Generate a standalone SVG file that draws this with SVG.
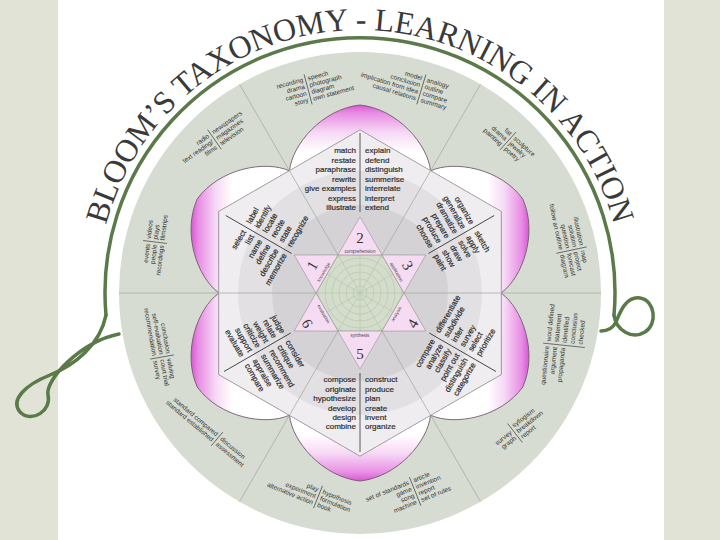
<svg xmlns="http://www.w3.org/2000/svg" width="720" height="540" viewBox="0 0 720 540">
<defs>
<style>
.kt{font-family:"Liberation Sans",Arial,sans-serif;font-size:8px;fill:#2f2f2f;stroke:#2f2f2f;stroke-width:0.2}
.ot{font-family:"Liberation Sans",Arial,sans-serif;font-size:6.5px;fill:#333}
.e{text-anchor:end}
.dv{stroke:#333;stroke-width:0.8}
.odv{stroke:#444;stroke-width:0.7}
.sec{stroke:#a6ada2;stroke-width:0.8;fill:none}
.num{font-family:"Liberation Serif",serif;font-size:15px;fill:#333;text-anchor:middle}
.lab{font-family:"Liberation Sans",sans-serif;font-size:4.5px;fill:#444;text-anchor:middle}
.petal{stroke:#6e5b6d;stroke-width:0.9}
.tri{fill:#f6dcf3;stroke:#8a8a8a;stroke-width:0.5}
.web{fill:none;stroke:#b3c2a9;stroke-width:0.6}
.green{fill:none;stroke:#5b7a4a;stroke-width:3.5;stroke-linecap:round}
</style>
<linearGradient id="gT" gradientUnits="userSpaceOnUse" x1="0" y1="105" x2="0" y2="160">
<stop offset="0" stop-color="#d857d2"/><stop offset="0.15" stop-color="#e88de4"/><stop offset="0.5" stop-color="#f7d8f5"/><stop offset="0.85" stop-color="#ffffff"/>
</linearGradient>
<linearGradient id="gB" gradientUnits="userSpaceOnUse" x1="0" y1="481" x2="0" y2="426">
<stop offset="0" stop-color="#d857d2"/><stop offset="0.15" stop-color="#e88de4"/><stop offset="0.5" stop-color="#f7d8f5"/><stop offset="0.85" stop-color="#ffffff"/>
</linearGradient>
<linearGradient id="gL" gradientUnits="userSpaceOnUse" x1="191" y1="0" x2="240" y2="0">
<stop offset="0" stop-color="#d857d2"/><stop offset="0.15" stop-color="#e88de4"/><stop offset="0.5" stop-color="#f7d8f5"/><stop offset="0.85" stop-color="#ffffff"/>
</linearGradient>
<linearGradient id="gR" gradientUnits="userSpaceOnUse" x1="529" y1="0" x2="480" y2="0">
<stop offset="0" stop-color="#d857d2"/><stop offset="0.15" stop-color="#e88de4"/><stop offset="0.5" stop-color="#f7d8f5"/><stop offset="0.85" stop-color="#ffffff"/>
</linearGradient>
<clipPath id="hexclip"><polygon points="404,293 382,254.9 338,254.9 316,293 338,331.1 382,331.1"/></clipPath>
<path id="titlePath" d="M106,224.9 A263,263 0 0 1 614,224.9"/>
</defs>

<rect x="0" y="0" width="720" height="540" fill="#ffffff"/>
<rect x="0" y="0" width="58" height="540" fill="#e1e3d7"/>
<rect x="664" y="0" width="56" height="540" fill="#e1e3d7"/>

<g id="disc">
<circle cx="360" cy="293" r="241" fill="#d6dcd1"/>
</g>

<g id="petals">
<path id="petal-2" class="petal" fill="url(#gT)" d="M289.5,170.75 C292,145 322,109 360,105 C398,109 428,145 430.5,170.75 L360,130 Z"/>
<path id="petal-3" class="petal" fill="url(#gR)" d="M430.6,170.8 C454.2,160.1 500.3,168.1 522.8,199 C538.3,233.9 522.2,277.9 501.1,292.9 L501.2,211.5 Z"/>
<path id="petal-4" class="petal" fill="url(#gR)" d="M501.1,293.1 C522.2,308.1 538.3,352.1 522.8,387 C500.3,417.9 454.2,425.9 430.6,415.2 L501.2,374.5 Z"/>
<path id="petal-5" class="petal" fill="url(#gB)" d="M430.5,415.25 C428,441 398,477 360,481 C322,477 292,441 289.5,415.25 L360,456 Z"/>
<path id="petal-6" class="petal" fill="url(#gL)" d="M218.9,293.1 C197.8,308.1 181.7,352.1 197.2,387 C219.7,417.9 265.8,425.9 289.4,415.2 L218.8,374.5 Z"/>
<path id="petal-1" class="petal" fill="url(#gL)" d="M218.9,292.9 C197.8,277.9 181.7,233.9 197.2,199 C219.7,168.1 265.8,160.1 289.4,170.8 L218.8,211.5 Z"/>
</g>

<g id="kites">
<polygon points="360,130 501.16,211.5 501.16,374.5 360,456 218.84,374.5 218.84,211.5" fill="#efedf0" stroke="#a8a8a8" stroke-width="0.6"/>
<circle cx="360" cy="293" r="122" fill="#000" fill-opacity="0.05"/>
<circle cx="360" cy="293" r="88" fill="#000" fill-opacity="0.06"/>
</g>

<g id="connectors">
<line class="sec" x1="119" y1="293" x2="601" y2="293"/>
<line class="sec" x1="480.5" y1="84.3" x2="239.5" y2="501.7"/>
<line class="sec" x1="239.5" y1="84.3" x2="480.5" y2="501.7"/>
</g>

<g id="kite-2">
<line class="dv" x1="360" y1="133" x2="360" y2="212"/>
<text class="kt e" x="356" y="153">match</text>
<text class="kt e" x="356" y="162.5">restate</text>
<text class="kt e" x="356" y="172">paraphrase</text>
<text class="kt e" x="356" y="181.5">rewrite</text>
<text class="kt e" x="356" y="191">give examples</text>
<text class="kt e" x="356" y="200.5">express</text>
<text class="kt e" x="356" y="210">illustrate</text>
<text class="kt" x="365" y="153">explain</text>
<text class="kt" x="365" y="162.5">defend</text>
<text class="kt" x="365" y="172">distinguish</text>
<text class="kt" x="365" y="181.5">summerise</text>
<text class="kt" x="365" y="191">interrelate</text>
<text class="kt" x="365" y="200.5">interpret</text>
<text class="kt" x="365" y="210">extend</text>
</g>

<g id="kite-1" transform="rotate(-60 360 293)">
<line class="dv" x1="360" y1="138" x2="360" y2="214"/>
<text class="kt e" x="356" y="164">select</text>
<text class="kt e" x="356" y="173.4">list</text>
<text class="kt e" x="356" y="182.8">name</text>
<text class="kt e" x="356" y="192.2">define</text>
<text class="kt e" x="356" y="201.6">describe</text>
<text class="kt e" x="356" y="211">memorize</text>
<text class="kt" x="365" y="164">label</text>
<text class="kt" x="365" y="173.4">identify</text>
<text class="kt" x="365" y="182.8">locate</text>
<text class="kt" x="365" y="192.2">recite</text>
<text class="kt" x="365" y="201.6">state</text>
<text class="kt" x="365" y="211">recognize</text>
</g>

<g id="kite-3" transform="rotate(60 360 293)">
<line class="dv" x1="360" y1="138" x2="360" y2="214"/>
<text class="kt e" x="356" y="164">organize</text>
<text class="kt e" x="356" y="173.4">generalize</text>
<text class="kt e" x="356" y="182.8">dramatize</text>
<text class="kt e" x="356" y="192.2">prepare</text>
<text class="kt e" x="356" y="201.6">produce</text>
<text class="kt e" x="356" y="211">choose</text>
<text class="kt" x="365" y="164">sketch</text>
<text class="kt" x="365" y="173.4">apply</text>
<text class="kt" x="365" y="182.8">solve</text>
<text class="kt" x="365" y="192.2">draw</text>
<text class="kt" x="365" y="201.6">show</text>
<text class="kt" x="365" y="211">paint</text>
</g>

<g id="kite-5">
<line class="dv" x1="360" y1="373" x2="360" y2="452"/>
<text class="kt e" x="356" y="382.3">compose</text>
<text class="kt e" x="356" y="391.7">originate</text>
<text class="kt e" x="356" y="401.1">hypothesize</text>
<text class="kt e" x="356" y="410.5">develop</text>
<text class="kt e" x="356" y="419.9">design</text>
<text class="kt e" x="356" y="429.3">combine</text>
<text class="kt" x="365" y="382.3">construct</text>
<text class="kt" x="365" y="391.7">produce</text>
<text class="kt" x="365" y="401.1">plan</text>
<text class="kt" x="365" y="410.5">create</text>
<text class="kt" x="365" y="419.9">invent</text>
<text class="kt" x="365" y="429.3">organize</text>
</g>

<g id="kite-4" transform="rotate(-60 360 293)">
<line class="dv" x1="360" y1="373" x2="360" y2="450"/>
<text class="kt e" x="356" y="382.3">compare</text>
<text class="kt e" x="356" y="391.7">analyze</text>
<text class="kt e" x="356" y="401.1">classify</text>
<text class="kt e" x="356" y="410.5">point out</text>
<text class="kt e" x="356" y="419.9">distinguish</text>
<text class="kt e" x="356" y="429.3">categorize</text>
<text class="kt" x="365" y="382.3">differentiate</text>
<text class="kt" x="365" y="391.7">subdivide</text>
<text class="kt" x="365" y="401.1">infer</text>
<text class="kt" x="365" y="410.5">survey</text>
<text class="kt" x="365" y="419.9">select</text>
<text class="kt" x="365" y="429.3">prioritize</text>
</g>

<g id="kite-6" transform="rotate(60 360 293)">
<line class="dv" x1="360" y1="373" x2="360" y2="450"/>
<text class="kt e" x="356" y="382.3">judge</text>
<text class="kt e" x="356" y="391.7">relate</text>
<text class="kt e" x="356" y="401.1">weight</text>
<text class="kt e" x="356" y="410.5">criticize</text>
<text class="kt e" x="356" y="419.9">support</text>
<text class="kt e" x="356" y="429.3">evaluate</text>
<text class="kt" x="365" y="382.3">consider</text>
<text class="kt" x="365" y="391.7">critique</text>
<text class="kt" x="365" y="401.1">recommend</text>
<text class="kt" x="365" y="410.5">summarize</text>
<text class="kt" x="365" y="419.9">appraise</text>
<text class="kt" x="365" y="429.3">compare</text>
</g>

<g id="centre">
<polygon points="404,293 382,254.9 338,254.9 316,293 338,331.1 382,331.1" fill="#d4ddcb" stroke="#8a8a8a" stroke-width="0.5"/>
<g clip-path="url(#hexclip)">
<circle class="web" cx="360" cy="293" r="7"/>
<circle class="web" cx="360" cy="293" r="14"/>
<circle class="web" cx="360" cy="293" r="21"/>
<circle class="web" cx="360" cy="293" r="28"/>
<circle class="web" cx="360" cy="293" r="35"/>
<circle class="web" cx="360" cy="293" r="42"/>
<path class="web" d="M316,293 L404,293 M338,254.9 L382,331.1 M382,254.9 L338,331.1 M360,249 L360,337 M322,271 L398,315 M398,271 L322,315"/>
</g>
</g>

<g id="star-2"><polygon class="tri" points="338,254.9 382,254.9 360,217"/><text class="num" x="360" y="243">2</text><text class="lab" x="360" y="252.5">comprehension</text></g>
<g id="star-1" transform="rotate(-60 360 293)"><polygon class="tri" points="338,254.9 382,254.9 360,217"/><text class="num" x="360" y="243">1</text><text class="lab" x="360" y="252.5">knowledge</text></g>
<g id="star-3" transform="rotate(60 360 293)"><polygon class="tri" points="338,254.9 382,254.9 360,217"/><text class="num" x="360" y="243">3</text><text class="lab" x="360" y="252.5">application</text></g>
<g id="star-5"><polygon class="tri" points="338,331.1 382,331.1 360,369"/><text class="num" x="360" y="359">5</text><text class="lab" x="360" y="336.5">synthesis</text></g>
<g id="star-4" transform="rotate(-60 360 293)"><polygon class="tri" points="338,331.1 382,331.1 360,369"/><text class="num" x="360" y="359">4</text><text class="lab" x="360" y="336.5">analysis</text></g>
<g id="star-6" transform="rotate(60 360 293)"><polygon class="tri" points="338,331.1 382,331.1 360,369"/><text class="num" x="360" y="359">6</text><text class="lab" x="360" y="336.5">evaluation</text></g>

<g id="products-1" transform="translate(308 89) rotate(-15)">
<line class="odv" x1="0" y1="-15" x2="0" y2="16"/>
<text class="ot e" x="-2.5" y="-8.2">recording</text><text class="ot e" x="-2.5" y="-1.2">drama</text><text class="ot e" x="-2.5" y="5.8">cartoon</text><text class="ot e" x="-2.5" y="12.8">story</text>
<text class="ot" x="2.5" y="-8.2">speech</text><text class="ot" x="2.5" y="-1.2">photograph</text><text class="ot" x="2.5" y="5.8">diagram</text><text class="ot" x="2.5" y="12.8">own statement</text>
</g>
<g id="products-2" transform="translate(421.5 89) rotate(17)">
<line class="odv" x1="0" y1="-15" x2="0" y2="16"/>
<text class="ot e" x="-2.5" y="-8.2">model</text><text class="ot e" x="-2.5" y="-1.2">conclusion</text><text class="ot e" x="-2.5" y="5.8">implication from idea</text><text class="ot e" x="-2.5" y="12.8">causal relations</text>
<text class="ot" x="2.5" y="-8.2">analogy</text><text class="ot" x="2.5" y="-1.2">outline</text><text class="ot" x="2.5" y="5.8">compare</text><text class="ot" x="2.5" y="12.8">summary</text>
</g>
<g id="products-3" transform="translate(508 141) rotate(42)">
<line class="odv" x1="0" y1="-12" x2="0" y2="12"/>
<text class="ot e" x="-2.5" y="-4.7">fat</text><text class="ot e" x="-2.5" y="2.3">drama</text><text class="ot e" x="-2.5" y="9.3">painting</text>
<text class="ot" x="2.5" y="-4.7">sculpture</text><text class="ot" x="2.5" y="2.3">jewelry</text><text class="ot" x="2.5" y="9.3">poetry</text>
</g>
<g id="products-4" transform="translate(572 250) rotate(78)">
<line class="odv" x1="0" y1="-15" x2="0" y2="16"/>
<text class="ot e" x="-2.5" y="-8.2">illustration</text><text class="ot e" x="-2.5" y="-1.2">solution</text><text class="ot e" x="-2.5" y="5.8">question</text><text class="ot e" x="-2.5" y="12.8">follow an outline</text>
<text class="ot" x="2.5" y="-8.2">map</text><text class="ot" x="2.5" y="-1.2">project</text><text class="ot" x="2.5" y="5.8">forecast</text><text class="ot" x="2.5" y="12.8">diagram</text>
</g>
<g id="products-5" transform="translate(561 345) rotate(-84)">
<line class="odv" x1="0" y1="-18" x2="0" y2="24"/>
<text class="ot e" x="-2.5" y="-11.7">questionnaire</text><text class="ot e" x="-2.5" y="-3.7">argument</text><text class="ot e" x="-2.5" y="4.3">propaganda</text>
<text class="ot" x="2.5" y="-10.7">word defined</text><text class="ot" x="2.5" y="-2.7">statement</text><text class="ot" x="2.5" y="5.3">identified</text><text class="ot" x="2.5" y="13.3">conclusion</text><text class="ot" x="2.5" y="21.3">checked</text>
</g>
<g id="products-6" transform="translate(515 433) rotate(-38)">
<line class="odv" x1="0" y1="-12" x2="0" y2="12"/>
<text class="ot e" x="-2.5" y="-1.2">survey</text><text class="ot e" x="-2.5" y="5.8">graph</text>
<text class="ot" x="2.5" y="-4.7">syllogism</text><text class="ot" x="2.5" y="2.3">breakdown</text><text class="ot" x="2.5" y="9.3">report</text>
</g>
<g id="products-7" transform="translate(415 491) rotate(-22)">
<line class="odv" x1="0" y1="-15" x2="0" y2="16"/>
<text class="ot e" x="-2.5" y="-8.2">set of standards</text><text class="ot e" x="-2.5" y="-1.2">game</text><text class="ot e" x="-2.5" y="5.8">song</text><text class="ot e" x="-2.5" y="12.8">machine</text>
<text class="ot" x="2.5" y="-8.2">article</text><text class="ot" x="2.5" y="-1.2">invention</text><text class="ot" x="2.5" y="5.8">report</text><text class="ot" x="2.5" y="12.8">set of rules</text>
</g>
<g id="products-8" transform="translate(318 497) rotate(22)">
<line class="odv" x1="0" y1="-12" x2="0" y2="12"/>
<text class="ot e" x="-2.5" y="-4.7">play</text><text class="ot e" x="-2.5" y="2.3">experiment</text><text class="ot e" x="-2.5" y="9.3">alternative action</text>
<text class="ot" x="2.5" y="-4.7">hypothesis</text><text class="ot" x="2.5" y="2.3">formulation</text><text class="ot" x="2.5" y="9.3">book</text>
</g>
<g id="products-9" transform="translate(217 439) rotate(40)">
<line class="odv" x1="0" y1="-9" x2="0" y2="9"/>
<text class="ot e" x="-2.5" y="-1.2">standard compared</text><text class="ot e" x="-2.5" y="5.8">standard established</text>
<text class="ot" x="2.5" y="-1.2">discussion</text><text class="ot" x="2.5" y="5.8">assessment</text>
</g>
<g id="products-10" transform="translate(162 357) rotate(80)">
<line class="odv" x1="0" y1="-12" x2="0" y2="12"/>
<text class="ot e" x="-2.5" y="-4.7">conclusion</text><text class="ot e" x="-2.5" y="2.3">self-evaluation</text><text class="ot e" x="-2.5" y="9.3">recommendation</text>
<text class="ot" x="2.5" y="-4.7">valuing</text><text class="ot" x="2.5" y="2.3">court trial</text><text class="ot" x="2.5" y="9.3">survey</text>
</g>
<g id="products-11" transform="translate(155 242) rotate(-83)">
<line class="odv" x1="0" y1="-12" x2="0" y2="12"/>
<text class="ot e" x="-2.5" y="-4.7">events</text><text class="ot e" x="-2.5" y="2.3">people</text><text class="ot e" x="-2.5" y="9.3">recordings</text>
<text class="ot" x="2.5" y="-4.7">videos</text><text class="ot" x="2.5" y="2.3">plays</text><text class="ot" x="2.5" y="9.3">filmstrips</text>
</g>
<g id="products-12" transform="translate(214.5 139.5) rotate(-35)">
<line class="odv" x1="0" y1="-12" x2="0" y2="12"/>
<text class="ot e" x="-2.5" y="-4.7">radio</text><text class="ot e" x="-2.5" y="2.3">text reading/</text><text class="ot e" x="-2.5" y="9.3">films</text>
<text class="ot" x="2.5" y="-4.7">newspapers</text><text class="ot" x="2.5" y="2.3">magazines</text><text class="ot" x="2.5" y="9.3">television</text>
</g>

<g id="frame">
<path class="green" d="M106,315.2 A255,255 0 1 1 614,315.2"/>
<path class="green" d="M106,315.2 C100,345 75,365 50,375 C25,385 10,400 20,412 C32,424 52,410 48,395 C45,380 80,342 119,334"/>
<path class="green" d="M614,315.2 C616,330 632,340 645,332 C658,324 655,300 640,298 C626,296 620,312 616,322 C612,330 606,331 601,331"/>
</g>

<g id="title">
<text font-family="Liberation Serif, serif" font-size="32" fill="#3a3a3a"><textPath href="#titlePath" textLength="688" lengthAdjust="spacing">BLOOM’S TAXONOMY - LEARNING IN ACTION</textPath></text>
</g>
</svg>
